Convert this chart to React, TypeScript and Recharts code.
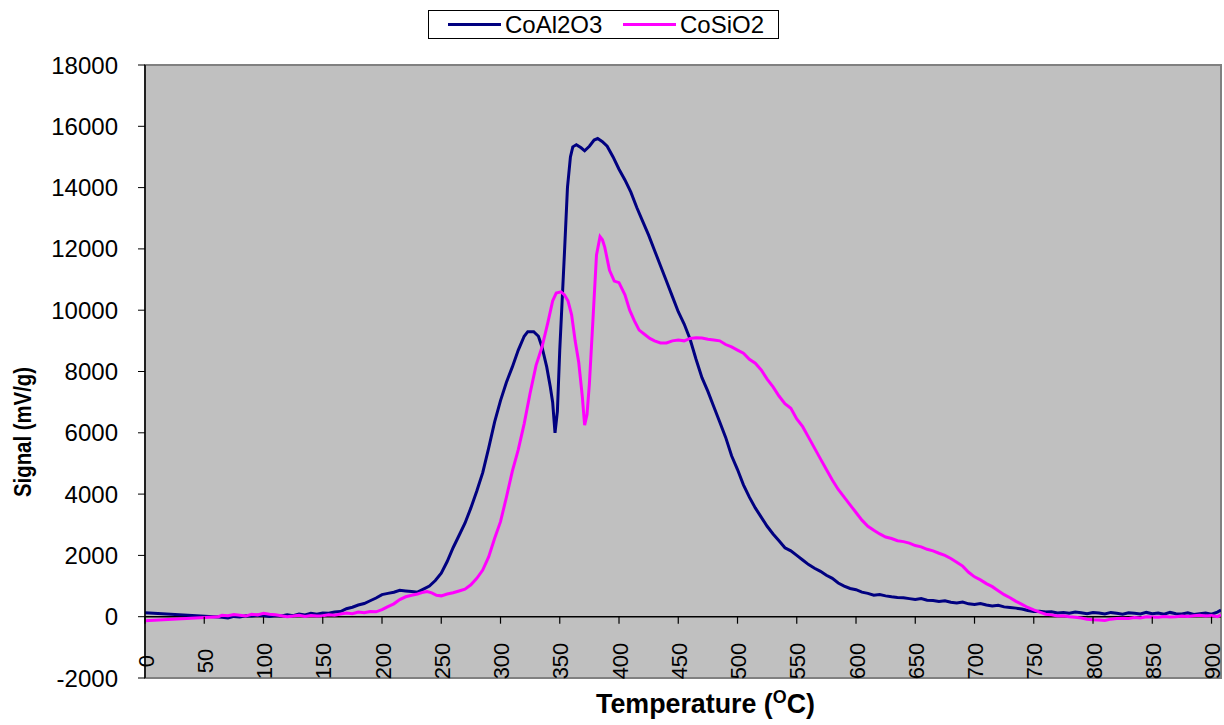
import React from 'react'
import {
  LineChart,
  Line,
  XAxis,
  YAxis,
  CartesianGrid,
  ReferenceLine,
  ReferenceArea,
  Legend
} from 'recharts'

const FONT = '"Liberation Sans", Arial, sans-serif'

// temperature (°C) / signal (mV/g)
const alTemps = [
  0, 65, 70, 75, 80, 85, 90, 95, 100, 105,
  110, 115, 120, 125, 130, 135, 140, 145, 150, 155,
  160, 165, 170, 175, 180, 185, 190, 195, 200, 205,
  210, 215, 220, 225, 230, 235, 240, 245, 250, 255,
  260, 265, 270, 275, 280, 285, 290, 295, 300, 305,
  310, 315, 320, 323, 328, 332, 335, 339, 342, 344,
  346, 348, 350, 352, 354, 356.5, 359, 361, 364, 368,
  371, 375, 379, 382, 386, 390, 395, 400, 405, 410,
  415, 420, 425, 430, 435, 440, 445, 450, 455, 460,
  465, 470, 475, 480, 485, 490, 495, 500, 505, 510,
  515, 520, 525, 530, 535, 540, 545, 550, 555, 560,
  565, 570, 575, 580, 585, 590, 595, 600, 605, 610,
  615, 620, 625, 630, 635, 640, 645, 650, 655, 660,
  665, 670, 675, 680, 685, 690, 695, 700, 705, 710,
  715, 720, 725, 730, 735, 740, 745, 750, 755, 760,
  765, 770, 775, 780, 785, 790, 795, 800, 805, 810,
  815, 820, 825, 830, 835, 840, 845, 850, 855, 860,
  865, 870, 875, 880, 885, 890, 895, 900, 905, 908
]
const alSignal = [
  130, -20, -40, 10, -10, 30, 20, 50, 40, 10,
  40, 20, 60, 30, 90, 60, 110, 80, 120, 110,
  150, 170, 260, 310, 380, 430, 520, 610, 720, 760,
  800, 860, 840, 820, 800, 900, 1000, 1180, 1420, 1800,
  2250, 2650, 3050, 3550, 4100, 4700, 5500, 6350, 7050, 7650,
  8150, 8700, 9150, 9300, 9300, 9150, 8800, 8150, 7500, 7000,
  6000, 6700, 8700, 10300, 11900, 14000, 15000, 15330, 15400, 15300,
  15200, 15350, 15550, 15600, 15500, 15350, 15000, 14600, 14250, 13850,
  13350, 12900, 12450, 11950, 11450, 10950, 10450, 9950, 9550, 9050,
  8400, 7800, 7350, 6850, 6350, 5850, 5250, 4800, 4300, 3900,
  3550, 3250, 2950, 2700, 2480, 2250, 2150, 2000, 1850, 1700,
  1580, 1480, 1350, 1250, 1100, 1000, 920, 880, 800, 760,
  700, 720, 680, 650, 630, 620, 590, 560, 590, 540,
  530, 500, 520, 470, 450, 480, 420, 400, 430, 380,
  350, 370, 320, 300, 280, 250, 200, 170, 180, 150,
  160, 120, 140, 110, 150, 130, 100, 140, 120, 90,
  140, 110, 80, 130, 110, 90, 140, 100, 120, 80,
  140, 100, 90, 130, 70, 100, 120, 80, 150, 220
]

const siTemps = [
  0, 62, 65, 70, 75, 80, 85, 90, 95, 100,
  105, 110, 115, 120, 125, 130, 135, 140, 145, 150,
  155, 160, 165, 170, 175, 180, 185, 190, 195, 200,
  205, 210, 215, 220, 225, 230, 235, 238, 242, 246,
  250, 255, 260, 265, 270, 275, 280, 285, 290, 295,
  300, 305, 310, 315, 320, 325, 330, 335, 340, 344,
  347, 351, 354, 357, 360, 363, 366, 369, 371, 373,
  375, 378, 381, 384, 386, 388, 392, 396, 400, 405,
  409, 413, 417, 422, 426, 430, 435, 440, 445, 450,
  455, 460, 465, 470, 475, 480, 485, 490, 495, 500,
  505, 510, 515, 520, 525, 530, 535, 540, 545, 550,
  555, 560, 565, 570, 575, 580, 585, 590, 595, 600,
  605, 610, 615, 620, 625, 630, 635, 640, 645, 650,
  655, 660, 665, 670, 675, 680, 685, 690, 695, 700,
  705, 710, 715, 720, 725, 730, 735, 740, 745, 750,
  755, 760, 765, 770, 775, 780, 785, 790, 795, 800,
  805, 810, 815, 820, 825, 830, 835, 840, 845, 850,
  855, 860, 865, 870, 875, 880, 885, 890, 895, 900,
  905, 908
]
const siSignal = [
  -130, 0, 50, 30, 70, 50, 20, 80, 60, 110,
  80, 60, 30, 0, 20, 50, 10, 40, 20, 30,
  60, 50, 90, 120, 100, 150, 130, 170, 160, 230,
  330, 420, 560, 650, 700, 740, 800, 820, 780, 700,
  680, 740, 780, 840, 900, 1040, 1250, 1520, 1950, 2550,
  3100, 3900, 4750, 5450, 6300, 7300, 8200, 8800, 9600, 10300,
  10560, 10600, 10500, 10300, 9850, 9000, 8300, 7200, 6250, 6600,
  7600, 9680, 11800, 12400, 12300, 12050, 11300, 10950, 10900, 10500,
  10000, 9650, 9350, 9200, 9080, 9000, 8930, 8930, 9000, 9030,
  9000, 9080, 9100, 9090, 9050, 9030, 9000, 8880, 8800, 8700,
  8600, 8400, 8270, 8050, 7750, 7500, 7200, 6950, 6800, 6450,
  6200, 5850, 5500, 5150, 4800, 4460, 4150, 3900, 3650, 3400,
  3150, 2950, 2820, 2700, 2600, 2550, 2480, 2450, 2400, 2320,
  2280, 2200, 2150, 2070, 2000, 1900, 1780, 1650, 1450, 1300,
  1200, 1080, 980, 850, 720, 620, 500, 400, 300, 220,
  150, 80, 60, 20, 30, 0, -20, -40, -80, -100,
  -110, -120, -80, -60, -50, -60, -30, -40, 0, -10,
  -20, 10, -10, 0, 20, 10, 30, 50, 20, 40,
  0, 60
]

const xTicks = [0, 50, 100, 150, 200, 250, 300, 350, 400, 450, 500, 550, 600, 650, 700, 750, 800, 850, 900]
const yTicks = [-2000, 0, 2000, 4000, 6000, 8000, 10000, 12000, 14000, 16000, 18000]

const X_MAX = 908
const Y_MIN = -2000
const Y_MAX = 18000

// plot box in page pixels
const PLOT_TOP = 65
const PLOT_BOTTOM = 678
const PLOT_LEFT = 145
const PLOT_RIGHT = 1221
const ZERO_Y = PLOT_TOP + ((PLOT_BOTTOM - PLOT_TOP) * Y_MAX) / (Y_MAX - Y_MIN)

const series = [
  { name: 'CoAl2O3', color: '#000080', data: alTemps.map((t, i) => ({ t, v: alSignal[i] })) },
  { name: 'CoSiO2', color: '#FF00FF', data: siTemps.map((t, i) => ({ t, v: siSignal[i] })) }
]

// x axis sits on y = 0, labels drawn inside the plot
function XTick(props: any) {
  const { x, payload } = props
  const ly = 661
  const lx = x + 1
  return (
    <g>
      <line x1={x} x2={x} y1={ZERO_Y} y2={ZERO_Y + 7} stroke="#000" strokeWidth={1.2} />
      <text
        x={lx}
        y={ly}
        transform={`rotate(-90 ${lx} ${ly})`}
        textAnchor="middle"
        dominantBaseline="central"
        fontSize={22}
        fontFamily={FONT}
        fill="#000"
      >
        {payload.value}
      </text>
    </g>
  )
}

function LegendBox() {
  const itemX = [20, 195]
  return (
    <div
      style={{
        position: 'relative',
        width: 351,
        height: 29,
        border: '1px solid #000',
        background: '#fff',
        boxSizing: 'border-box',
        fontFamily: FONT,
        fontSize: 24,
        color: '#000'
      }}
    >
      {series.map((s, i) => (
        <React.Fragment key={s.name}>
          <div
            style={{
              position: 'absolute',
              left: itemX[i] - 1,
              top: 12,
              width: 53,
              height: 3,
              background: s.color
            }}
          />
          <span
            style={{
              position: 'absolute',
              left: itemX[i] + 56,
              top: 0,
              lineHeight: '27px',
              whiteSpace: 'nowrap'
            }}
          >
            {s.name}
          </span>
        </React.Fragment>
      ))}
    </div>
  )
}

export default function App() {
  return (
    <div style={{ position: 'absolute', left: 0, top: 0, width: 1224, height: 725, background: '#fff' }}>
      <LineChart
        width={1224}
        height={725}
        margin={{ top: PLOT_TOP, right: 1224 - PLOT_RIGHT, left: PLOT_LEFT - 60, bottom: 725 - PLOT_BOTTOM - 30 }}
      >
        <CartesianGrid horizontal={false} vertical={false} fill="#C0C0C0" fillOpacity={1} />
        <ReferenceArea
          x1={0}
          x2={X_MAX}
          y1={Y_MIN}
          y2={Y_MAX}
          fill="none"
          stroke="#808080"
          strokeWidth={2}
        />
        <XAxis
          dataKey="t"
          type="number"
          domain={[0, X_MAX]}
          ticks={xTicks}
          interval={0}
          allowDataOverflow
          height={30}
          axisLine={false}
          tickLine={false}
          tick={(p: any) => <XTick {...p} />}
          label={() => (
            <text
              x={596}
              y={713}
              textLength={219}
              lengthAdjust="spacingAndGlyphs"
              fontSize={27}
              fontWeight="bold"
              fontFamily={FONT}
              fill="#000"
            >
              Temperature (<tspan fontSize={18} dy={-10}>O</tspan>
              <tspan dy={10}>C)</tspan>
            </text>
          )}
        />
        <YAxis
          type="number"
          domain={[Y_MIN, Y_MAX]}
          ticks={yTicks}
          interval={0}
          width={60}
          tickSize={7}
          tickMargin={20}
          axisLine={{ stroke: '#000', strokeWidth: 1.5 }}
          tickLine={{ stroke: '#000' }}
          tick={{ fill: '#000', fontSize: 24, fontFamily: FONT }}
          label={() => (
            <text
              x={31}
              y={432}
              transform="rotate(-90 31 432)"
              textAnchor="middle"
              textLength={130}
              lengthAdjust="spacingAndGlyphs"
              fontSize={23}
              fontWeight="bold"
              fontFamily={FONT}
              fill="#000"
            >
              Signal (mV/g)
            </text>
          )}
        />
        <ReferenceLine y={0} stroke="#000" strokeWidth={1.5} />
        <Legend
          layout="horizontal"
          verticalAlign="middle"
          align="center"
          wrapperStyle={{ top: 10, left: 428, width: 351, height: 29 }}
          content={() => <LegendBox />}
        />
        {series.map((s) => (
          <Line
            key={s.name}
            data={s.data}
            dataKey="v"
            name={s.name}
            type="linear"
            stroke={s.color}
            strokeWidth={3}
            dot={false}
            activeDot={false}
            isAnimationActive={false}
          />
        ))}
      </LineChart>
    </div>
  )
}
